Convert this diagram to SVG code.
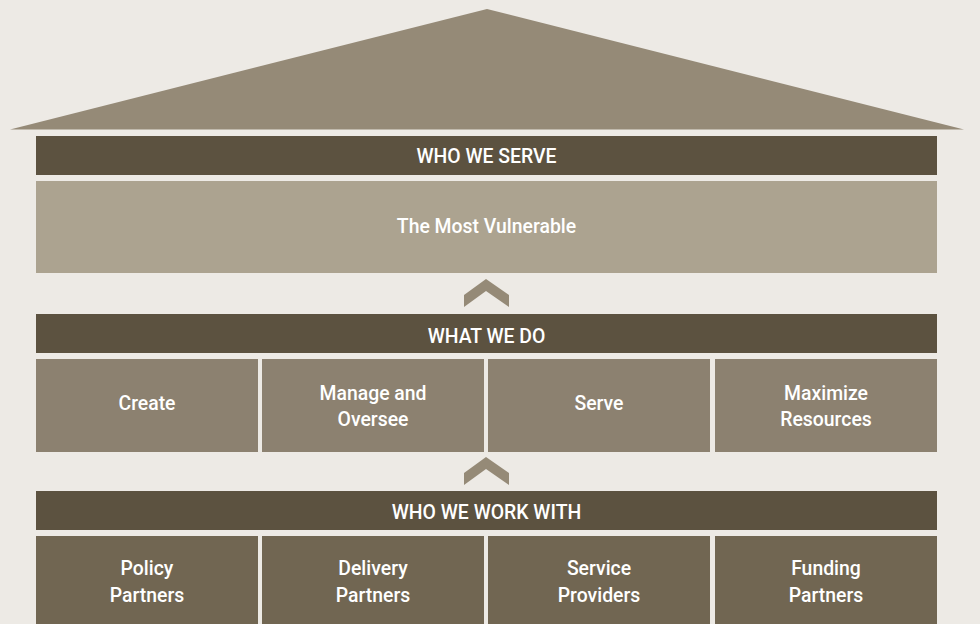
<svg xmlns="http://www.w3.org/2000/svg" width="980" height="624" viewBox="0 0 980 624">
  <style>
    .bg { fill: #edeae5; }
    .roof { fill: #958a77; }
    .bar { fill: #5c5240; }
    .top { fill: #aca390; }
    .mid { fill: #8c8170; }
    .low { fill: #716652; }
    .chev { fill: #958a77; }
    text { font-family: Roboto, "Liberation Sans", Arial, sans-serif; font-weight: 500; font-size: 19.4px; fill: #ffffff; text-anchor: middle; }
  </style>
  <defs>
    <polygon id="chevron" points="486,0 509,16 509,28 486,12 464,28 464,16"/>
  </defs>
  <rect class="bg" x="0" y="0" width="980" height="624"/>

  <!-- roof -->
  <g id="roof">
    <polygon class="roof" points="10,129.5 487,9 964,129.5"/>
  </g>

  <!-- level 1: who we serve -->
  <g id="who-we-serve">
    <rect class="bar" x="36" y="136" width="901" height="39"/>
    <text x="486.5" y="162.5">WHO WE SERVE</text>
  </g>
  <g id="most-vulnerable">
    <rect class="top" x="36" y="181" width="901" height="92"/>
    <text x="486.5" y="232.5">The Most Vulnerable</text>
  </g>

  <!-- level 2: what we do -->
  <g id="what-we-do">
    <rect class="bar" x="36" y="314" width="901" height="39"/>
    <text x="486.5" y="342.5">WHAT WE DO</text>
  </g>
  <g id="create">
    <rect class="mid" x="36" y="359" width="222" height="93"/>
    <text x="147" y="410">Create</text>
  </g>
  <g id="manage-oversee">
    <rect class="mid" x="262" y="359" width="222" height="93"/>
    <text x="373" y="399.5">Manage and</text>
    <text x="373" y="425.8">Oversee</text>
  </g>
  <g id="serve">
    <rect class="mid" x="488" y="359" width="222" height="93"/>
    <text x="599" y="410">Serve</text>
  </g>
  <g id="maximize-resources">
    <rect class="mid" x="715" y="359" width="222" height="93"/>
    <text x="826" y="399.5">Maximize</text>
    <text x="826" y="425.8">Resources</text>
  </g>

  <!-- level 3: who we work with -->
  <g id="who-we-work-with">
    <rect class="bar" x="36" y="491" width="901" height="39"/>
    <text x="486.5" y="518.5">WHO WE WORK WITH</text>
  </g>
  <g id="policy-partners">
    <rect class="low" x="36" y="536" width="222" height="88"/>
    <text x="147" y="575">Policy</text>
    <text x="147" y="602">Partners</text>
  </g>
  <g id="delivery-partners">
    <rect class="low" x="262" y="536" width="222" height="88"/>
    <text x="373" y="575">Delivery</text>
    <text x="373" y="602">Partners</text>
  </g>
  <g id="service-providers">
    <rect class="low" x="488" y="536" width="222" height="88"/>
    <text x="599" y="575">Service</text>
    <text x="599" y="602">Providers</text>
  </g>
  <g id="funding-partners">
    <rect class="low" x="715" y="536" width="222" height="88"/>
    <text x="826" y="575">Funding</text>
    <text x="826" y="602">Partners</text>
  </g>

  <!-- upward chevrons between levels -->
  <g id="connectors">
    <use href="#chevron" class="chev" y="279"/>
    <use href="#chevron" class="chev" y="457"/>
  </g>
</svg>
